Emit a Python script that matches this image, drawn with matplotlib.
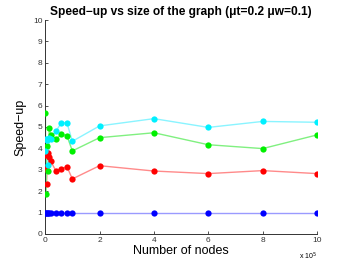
import matplotlib
matplotlib.use('Agg')
import matplotlib.pyplot as plt
import numpy as np

plt.rcParams['font.family'] = ['Liberation Sans', 'DejaVu Sans']

# Number of nodes for each run
nodes = np.array([1000, 2000, 5000, 10000, 15000, 20000, 40000, 60000, 80000,
                  100000, 200000, 400000, 600000, 800000, 1000000])

speedup_blue = [1.0, 1.0, 1.0, 1.0, 1.0, 1.0, 1.0, 1.0, 1.0, 1.0, 1.0, 1.0, 1.0, 1.0, 1.0]
speedup_red = [3.7, 3.05, 2.34, 3.77, 3.6, 3.41, 2.94, 3.04, 3.15, 2.57, 3.19, 2.94, 2.82, 2.96, 2.82]
speedup_green = [5.64, 1.87, 4.13, 2.94, 4.97, 4.63, 4.44, 4.66, 4.6, 3.88, 4.5, 4.73, 4.17, 3.99, 4.63]
speedup_cyan = [3.9, 4.45, 4.4, 3.22, 4.5, 4.45, 4.81, 5.2, 5.2, 4.33, 5.05, 5.39, 4.98, 5.26, 5.22]

series = [
    (speedup_blue, '#0000ff', '#9a9aff'),
    (speedup_red, '#ff0000', '#ff8a8a'),
    (speedup_green, '#00f000', '#80f080'),
    (speedup_cyan, '#00f0ff', '#8af4ff'),
]

fig = plt.figure(figsize=(3.5, 2.64), dpi=100)
ax = fig.add_axes([0.129, 0.114, 0.777, 0.81])

x = nodes / 1e5
for vals, mc, lc in series:
    ax.plot(x, vals, '-', color=lc, linewidth=1.0, zorder=2)
    ax.plot(x, vals, 'o', color=mc, markersize=4.5, markeredgewidth=0, zorder=3)

ax.set_xlim(0, 10)
ax.set_ylim(0, 10)
ax.set_xticks(range(0, 11, 2))
ax.set_yticks(range(0, 11))
ax.tick_params(direction='in', labelsize=6, length=2.5, width=0.6, colors='#333333', pad=2)
ax.spines['top'].set_visible(False)
ax.spines['right'].set_visible(False)
for s in ['left', 'bottom']:
    ax.spines[s].set_linewidth(0.7)
    ax.spines[s].set_color('#333333')

ax.set_xlabel('Number of nodes', fontsize=9, labelpad=1)
ax.set_ylabel('Speed\u2212up', fontsize=9, labelpad=5)
ax.set_title('Speed\u2212up vs size of the graph (\u03bct=0.2 \u03bcw=0.1)',
             fontsize=8.6, fontweight='bold', pad=4)
ax.text(1.0, -0.103, r'x 10$^5$', transform=ax.transAxes, fontsize=5,
        ha='right', va='center')

fig.savefig('out.png', dpi=100)
